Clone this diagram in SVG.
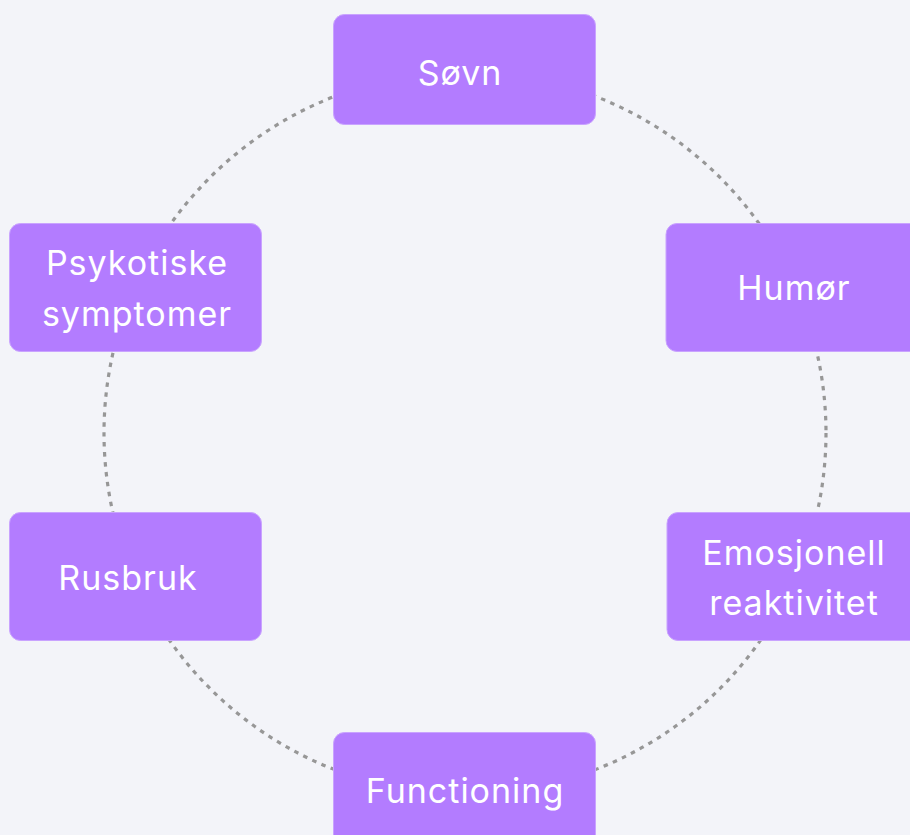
<svg xmlns="http://www.w3.org/2000/svg" width="910" height="835" viewBox="0 0 910 835">
<style>
.bg{fill:#F3F4F9}
.box{fill:#B37CFF;stroke:#C9A3FF;stroke-width:1}
.lbl{font-family:Inter,"Open Sans","Liberation Sans",sans-serif;font-size:34px;letter-spacing:1px;fill:#FFFFFF;text-anchor:middle}
.ring{fill:none;stroke:#979797;stroke-width:3.2;stroke-dasharray:4.5 5.5}
</style>
<rect class="bg" x="0" y="0" width="910" height="835"/>
<g id="connectors">
<circle class="ring" cx="465" cy="433" r="361"/>
</g>
<g id="node-sovn">
<rect class="box" x="333.5" y="14.5" width="262" height="110" rx="11"/>
<text class="lbl" x="460" y="85">Søvn</text>
</g>
<g id="node-humor">
<rect class="box" x="666" y="223.5" width="260" height="128" rx="11"/>
<text class="lbl" x="794" y="300">Humør</text>
</g>
<g id="node-psykotiske">
<rect class="box" x="9.5" y="223.5" width="252" height="128" rx="11"/>
<text class="lbl" x="137" y="275">Psykotiske</text>
<text class="lbl" x="137" y="326">symptomer</text>
</g>
<g id="node-emosjonell">
<rect class="box" x="667" y="512.5" width="260" height="128" rx="11"/>
<text class="lbl" x="794" y="565">Emosjonell</text>
<text class="lbl" x="794" y="615">reaktivitet</text>
</g>
<g id="node-rusbruk">
<rect class="box" x="9.5" y="512.5" width="252" height="128" rx="11"/>
<text class="lbl" x="128" y="590">Rusbruk</text>
</g>
<g id="node-functioning">
<rect class="box" x="333.5" y="732.5" width="262" height="120" rx="11"/>
<text class="lbl" x="465" y="803">Functioning</text>
</g>
</svg>
